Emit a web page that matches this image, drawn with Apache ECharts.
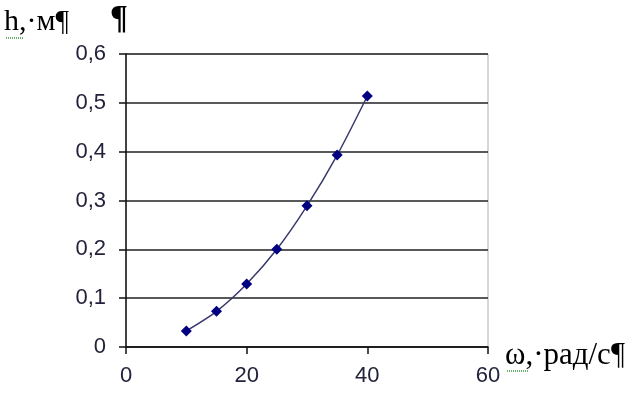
<!DOCTYPE html>
<html>
<head>
<meta charset="utf-8">
<script src="https://cdn.jsdelivr.net/npm/echarts@6/dist/echarts.min.js"></script>
<style>html,body{margin:0;padding:0;background:#fff;}#c{width:634px;height:412px;}</style>
</head>
<body>
<div id="c"></div>
<script>
const omega = [10, 15, 20, 25, 30, 35, 40];
const h = [0.033, 0.073, 0.129, 0.200, 0.289, 0.393, 0.514];
const yTickLabels = ['0', '0,1', '0,2', '0,3', '0,4', '0,5', '0,6'];
const xTitle = 'ω,·рад/с¶';
const yTitle = 'h,·м¶';

const chart = echarts.init(document.getElementById('c'));
const labelFont = '"Liberation Sans Narrow", "Liberation Sans", Arial, sans-serif';
chart.setOption({
  animation: false,
  grid: { left: 126, top: 54, right: 146, bottom: 65, show: true, borderColor: '#b0b0b0', borderWidth: 1, backgroundColor: 'transparent' },
  xAxis: {
    type: 'value', min: 0, max: 60, interval: 20,
    axisLine: { lineStyle: { color: '#111', width: 1.5 } },
    axisTick: { show: true, inside: false, length: 7, lineStyle: { color: '#111', width: 1.5 } },
    splitLine: { show: false },
    axisLabel: { fontSize: 22, fontFamily: labelFont, color: '#22223a', margin: 18 }
  },
  yAxis: {
    type: 'value', min: 0, max: 0.6, interval: 0.1,
    axisLine: { show: true, lineStyle: { color: '#111', width: 1.5 } },
    axisTick: { show: true, inside: false, length: 7, lineStyle: { color: '#111', width: 1.5 } },
    splitLine: { show: true, lineStyle: { color: '#222', width: 1.5 } },
    axisLabel: {
      fontSize: 22, fontFamily: labelFont, color: '#22223a', margin: 20,
      formatter: function (v) { return yTickLabels[Math.round(v * 10)]; }
    }
  },
  series: [{
    type: 'line',
    data: omega.map((x, i) => [x, h[i]]),
    smooth: 0.3,
    symbol: 'diamond',
    symbolSize: 11,
    lineStyle: { color: '#3a3a6e', width: 1.5 },
    itemStyle: { color: '#000080' }
  }],
  graphic: [
    { type: 'text', left: 4, top: 7, style: { text: yTitle, font: '30px "Liberation Serif", "Times New Roman", serif', fill: '#000' } },
    { type: 'text', left: 110, top: 3, style: { text: '¶', font: 'bold 33px "Liberation Serif", "Times New Roman", serif', fill: '#000' } },
    { type: 'text', left: 505, top: 340, style: { text: xTitle, font: '31px "Liberation Serif", "Times New Roman", serif', fill: '#000' } },
    { type: 'polyline', shape: { points: [[6, 38], [24, 38]] }, style: { stroke: '#3a9a3a', lineWidth: 1.5, lineDash: [1, 1] } },
    { type: 'polyline', shape: { points: [[507, 371], [529, 371]] }, style: { stroke: '#3a9a3a', lineWidth: 1.5, lineDash: [1, 1] } }
  ]
});
</script>
</body>
</html>
